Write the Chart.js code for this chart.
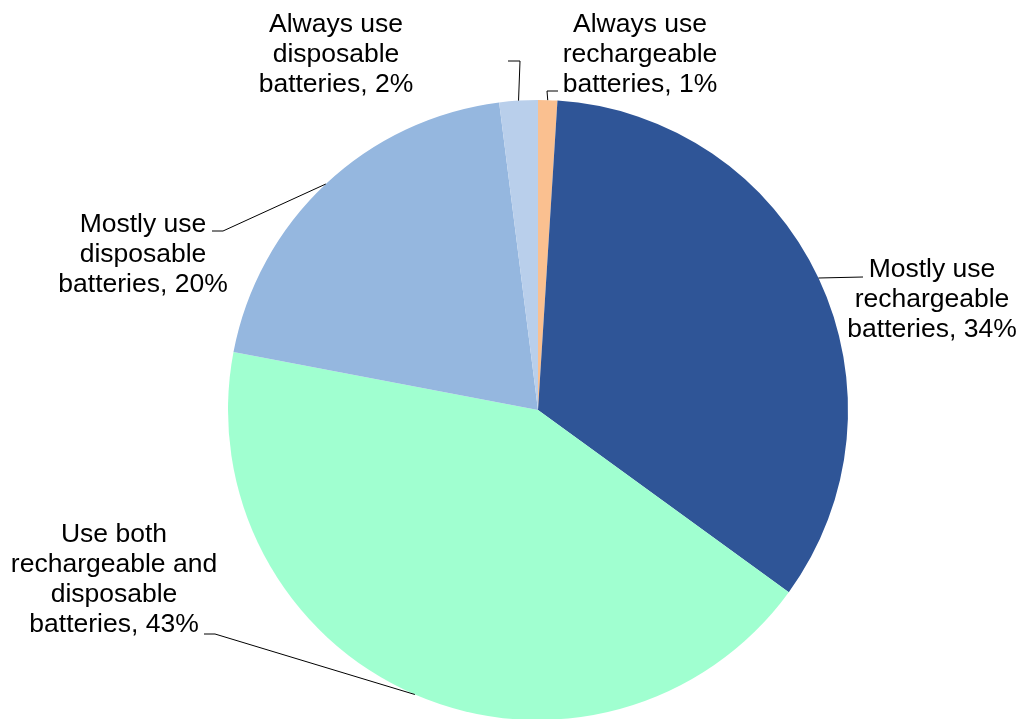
<!DOCTYPE html>
<html>
<head>
<meta charset="utf-8">
<script src="https://cdn.jsdelivr.net/npm/chart.js@4"></script>
<style>
html,body{margin:0;padding:0;background:#fff;overflow:hidden;width:1021px;height:719px;}
#wrap{position:absolute;left:0;top:0;width:1021px;height:740px;}
</style>
</head>
<body>
<div id="wrap"><canvas id="c" width="1021" height="740"></canvas></div>
<script>
// ---- data ----
const categories = [
  "Always use\nrechargeable\nbatteries",
  "Mostly use\nrechargeable\nbatteries",
  "Use both\nrechargeable and\ndisposable\nbatteries",
  "Mostly use\ndisposable\nbatteries",
  "Always use\ndisposable\nbatteries"
];
const percentages = [1, 34, 43, 20, 2];
const sliceColors = ["#FAC090", "#2F5597", "#A0FFD0", "#95B7DF", "#B9CFEB"];

// ---- label layout (style / placement only) ----
// cx: text centre x, by: first baseline y, elbow/end: leader line points
const labelLayout = [
  {cx: 640, by: 32,  elbow: [547, 91],  end: [558, 91]},
  {cx: 932, by: 277, elbow: [863, 277], end: [863, 277]},
  {cx: 114, by: 542, elbow: [215, 634], end: [204, 634]},
  {cx: 143, by: 232, elbow: [223, 231], end: [212, 231]},
  {cx: 336, by: 32,  elbow: [520, 61],  end: [508, 61]}
];
const lineHeight = 30;
const labelFont = "26.5px 'Liberation Sans', Arial, sans-serif";

const labelPlugin = {
  id: 'outLabels',
  afterDraw(chart) {
    const ctx = chart.ctx;
    const meta = chart.getDatasetMeta(0);
    ctx.save();
    meta.data.forEach((arc, i) => {
      const p = arc.getProps(['x','y','startAngle','endAngle','outerRadius'], true);
      const mid = (p.startAngle + p.endAngle) / 2;
      const ax = p.x + Math.cos(mid) * p.outerRadius;
      const ay = p.y + Math.sin(mid) * p.outerRadius;
      const L = labelLayout[i];
      ctx.strokeStyle = '#000';
      ctx.lineWidth = 1;
      ctx.beginPath();
      ctx.moveTo(ax, ay);
      ctx.lineTo(L.elbow[0], L.elbow[1]);
      ctx.lineTo(L.end[0], L.end[1]);
      ctx.stroke();
      const lines = categories[i].split("\n");
      lines[lines.length - 1] += ", " + percentages[i] + "%";
      ctx.fillStyle = '#000';
      ctx.font = labelFont;
      ctx.textAlign = 'center';
      ctx.textBaseline = 'alphabetic';
      lines.forEach((t, k) => ctx.fillText(t, L.cx, L.by + k * lineHeight));
    });
    ctx.restore();
  }
};

new Chart(document.getElementById('c'), {
  type: 'pie',
  data: {
    labels: categories.map(s => s.replace(/\n/g, ' ')),
    datasets: [{
      data: percentages,
      backgroundColor: sliceColors,
      borderWidth: 0,
      hoverOffset: 0,
      offset: 0
    }]
  },
  options: {
    responsive: false,
    animation: false,
    events: [],
    devicePixelRatio: 1,
    layout: {padding: {left: 228, right: 173, top: 100, bottom: 20}},
    plugins: {legend: {display: false}, tooltip: {enabled: false}}
  },
  plugins: [labelPlugin]
});
</script>
</body>
</html>
